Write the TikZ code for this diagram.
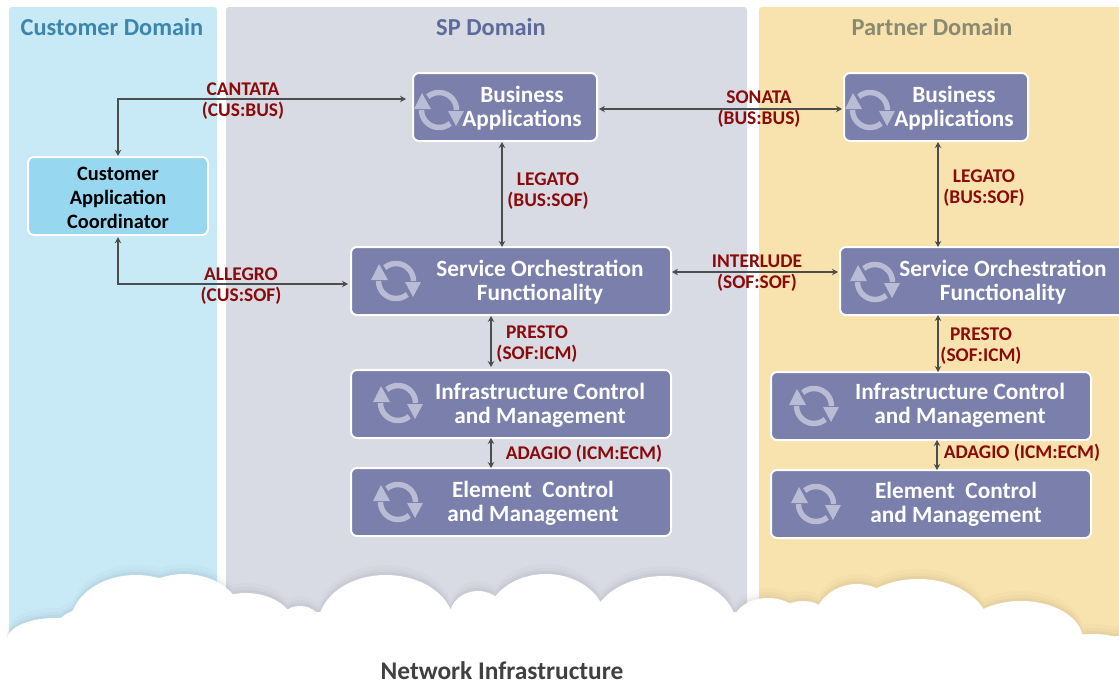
\documentclass[tikz,border=0pt]{standalone}
\usepackage{fontspec}
\setmainfont{Carlito}
\usetikzlibrary{arrows.meta}
\definecolor{custbg}{HTML}{C8E9F6}
\definecolor{spbg}{HTML}{D8DAE4}
\definecolor{partbg}{HTML}{F8E3AE}
\definecolor{boxfill}{HTML}{7A7FAB}
\definecolor{cacfill}{HTML}{97D7F0}
\definecolor{iconcol}{HTML}{B9BCD4}
\definecolor{ifred}{HTML}{8B0A0A}
\definecolor{wire}{HTML}{4D4D4D}
\definecolor{titlecust}{HTML}{3D86AB}
\definecolor{titlesp}{HTML}{5D6A9C}
\definecolor{titlepart}{HTML}{8A8A72}
\definecolor{nettext}{HTML}{404040}
\newcommand{\cloudshape}{
  (7,694) rectangle (1119,640)
  (70,694) rectangle (1060,612)
  (55,640) circle [x radius=48,y radius=22]
  (95,630) circle [x radius=40,y radius=23]
  (136,625) circle [x radius=66,y radius=50]
  (184,622) circle [x radius=60,y radius=48]
  (246,630) circle [x radius=50,y radius=37]
  (300,625) circle [x radius=22,y radius=19]
  (386,625) circle [x radius=68,y radius=50]
  (478,615) circle [x radius=28,y radius=24]
  (546,622) circle [x radius=60,y radius=48]
  (664,625) circle [x radius=72,y radius=49]
  (768,625) circle [x radius=36,y radius=27]
  (803,625) circle [x radius=30,y radius=24]
  (857,625) circle [x radius=44,y radius=41]
  (918,630) circle [x radius=72,y radius=51]
  (1021,640) circle [x radius=62,y radius=39]
  (1093,650) circle [x radius=40,y radius=16]
  (1119,660) circle [x radius=22,y radius=24]
}
\tikzset{
  x=1pt,y=-1pt,
  funcbox/.style={draw=white,line width=2pt,fill=boxfill,rounded corners=6pt,inner sep=0pt,outer sep=0pt},
  cacbox/.style={funcbox,fill=cacfill},
  boxtext/.style={text=white,font=\fontsize{23.3}{24}\selectfont\bfseries,align=center,inner sep=0pt},
  cactext/.style={text=black,font=\fontsize{20.4}{24}\selectfont\bfseries,align=center,inner sep=0pt},
  iflabel/.style={text=ifred,font=\fontsize{19.4}{21}\selectfont\bfseries,align=center,inner sep=0pt},
  domainlabel/.style={font=\fontsize{24.4}{26}\selectfont\bfseries,inner sep=0pt},
  link/.style={draw=wire,line width=1.2pt,{Stealth[length=6pt,width=6.5pt]}-{Stealth[length=6pt,width=6.5pt]}},
  cycleicon/.pic={
    \draw[iconcol,line width=5.5pt] (11.25,13.41) arc (50:180:17.5);
    \draw[iconcol,line width=5.5pt] (-11.25,-13.41) arc (230:360:17.5);
    \fill[iconcol] (-17,-17) -- (-25,-1) -- (-8,-1) -- cycle;
    \fill[iconcol] (17,16) -- (9,1) -- (25,1) -- cycle;
  }
}
\begin{document}
\begin{tikzpicture}
\useasboundingbox (0,0) rectangle (1119,694);
\fill[white] (0,0) rectangle (1119,694);
% domains
\fill[custbg,rounded corners=3pt] (9,7) rectangle (217,660);
\fill[spbg,rounded corners=3pt] (226,7) rectangle (747,660);
\fill[partbg,rounded corners=3pt] (759,7) rectangle (1125,660);
% cloud shadow
\fill[black,opacity=.015,yshift=10pt] \cloudshape;
\fill[black,opacity=.02,yshift=6pt] \cloudshape;
\fill[black,opacity=.03,yshift=3pt] \cloudshape;
\fill[white] \cloudshape;
% titles
\node[domainlabel,text=titlecust] (tcust) at (112,27) {Customer Domain};
\node[domainlabel,text=titlesp] (tsp) at (491,27) {SP Domain};
\node[domainlabel,text=titlepart] (tpart) at (932,27) {Partner Domain};
% boxes
\path[cacbox] (28,157) rectangle (208,235);
\node[inner sep=0pt,minimum width=180pt,minimum height=78pt] (cac) at (118,196) {};
\node[funcbox,minimum width=184pt,minimum height=68pt] (ba1) at (505,107) {};
\node[funcbox,minimum width=320pt,minimum height=68pt] (so1) at (511,281) {};
\node[funcbox,minimum width=320pt,minimum height=68pt] (ic1) at (511,404) {};
\node[funcbox,minimum width=320pt,minimum height=68pt] (ec1) at (511,502) {};
\node[funcbox,minimum width=184pt,minimum height=68pt] (ba2) at (936,107) {};
\node[funcbox,minimum width=290pt,minimum height=68pt] (so2) at (985,281) {};
\node[funcbox,minimum width=320pt,minimum height=68pt] (ic2) at (931,406) {};
\node[funcbox,minimum width=320pt,minimum height=68pt] (ec2) at (931,504) {};
% icons
\pic at (439,110) {cycleicon};
\pic at (396,281) {cycleicon};
\pic at (398,403) {cycleicon};
\pic at (398,502) {cycleicon};
\pic at (870,110) {cycleicon};
\pic at (875,282) {cycleicon};
\pic at (814,406) {cycleicon};
\pic at (816,504) {cycleicon};
% box text
\node[cactext] (tcac) at (118,197.5) {Customer\\Application\\Coordinator};
\node[boxtext] (tba1) at (522,108.5) {Business\\Applications};
\node[boxtext] (tso1) at (540,282.5) {Service Orchestration\\Functionality};
\node[boxtext] (tic1) at (540,405.5) {Infrastructure Control\\and Management};
\node[boxtext] (tec1) at (533,503.5) {Element\ \ Control\\and Management};
\node[boxtext] (tba2) at (954,108.5) {Business\\Applications};
\node[boxtext] (tso2) at (1003,282.5) {Service Orchestration\\Functionality};
\node[boxtext] (tic2) at (960,405.5) {Infrastructure Control\\and Management};
\node[boxtext] (tec2) at (956,504.5) {Element\ \ Control\\and Management};
% connectors
\coordinate (c1) at (118,99);
\coordinate (c2) at (118,284);
\draw[link,shorten <=1pt,shorten >=7pt] (cac.north) -- (c1) -- (c1 -| ba1.west);
\draw[link,shorten <=2pt,shorten >=3pt] (cac.south) -- (c2) -- (c2 -| so1.west);
\draw[link,shorten <=2pt,shorten >=2pt] ([yshift=-2pt]ba1.east) -- ([yshift=-2pt]ba2.west);
\draw[link,shorten <=1pt,shorten >=0pt] ([xshift=-3pt]ba1.south) -- ([xshift=-3pt]ba1.south |- so1.north);
\draw[link,shorten <=1pt,shorten >=0pt] ([xshift=2pt]ba2.south) -- ([xshift=2pt]ba2.south |- so2.north);
\draw[link,shorten <=1pt,shorten >=2pt] ([yshift=9pt]so1.east) -- ([yshift=9pt]so2.west);
\draw[link,shorten <=1pt,shorten >=3pt] ([xshift=-20pt]so1.south) -- ([xshift=-20pt]so1.south |- ic1.north);
\draw[link,shorten <=0pt,shorten >=0pt] ([xshift=-47pt]so2.south) -- ([xshift=7pt]ic2.north);
\draw[link] ([xshift=-20pt]ic1.south) -- ([xshift=-20pt]ic1.south |- ec1.north);
\draw[link] ([xshift=6pt]ic2.south) -- ([xshift=6pt]ic2.south |- ec2.north);
% labels
\node[iflabel] (lcan) at (243,101) {CANTATA\\(CUS:BUS)};
\node[iflabel] (lall) at (241,286) {ALLEGRO\\(CUS:SOF)};
\node[iflabel] (lson) at (759,109) {SONATA\\(BUS:BUS)};
\node[iflabel] (lleg1) at (548,191) {LEGATO\\(BUS:SOF)};
\node[iflabel] (lleg2) at (984,188) {LEGATO\\(BUS:SOF)};
\node[iflabel] (lint) at (757,273) {INTERLUDE\\(SOF:SOF)};
\node[iflabel] (lpre1) at (537,344) {PRESTO\\(SOF:ICM)};
\node[iflabel] (lpre2) at (981,346) {PRESTO\\(SOF:ICM)};
\node[iflabel] (lada1) at (584,454) {ADAGIO (ICM:ECM)};
\node[iflabel] (lada2) at (1022,453) {ADAGIO (ICM:ECM)};
\node[font=\fontsize{25.4}{26}\selectfont\bfseries,text=nettext,inner sep=0pt] (net) at (502,671) {Network Infrastructure};
\end{tikzpicture}
\end{document}
